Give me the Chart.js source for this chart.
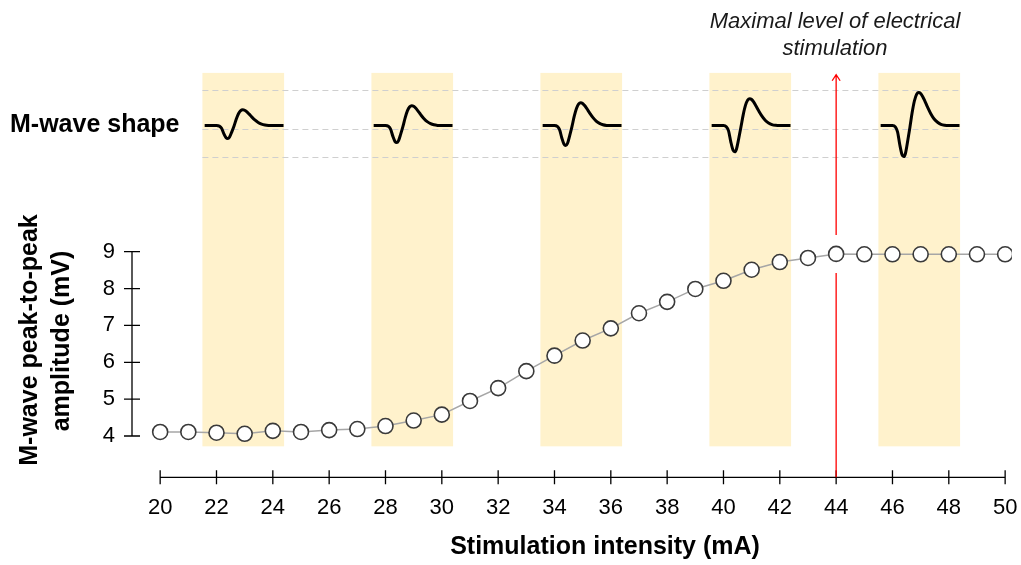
<!DOCTYPE html>
<html>
<head>
<meta charset="utf-8">
<script src="https://cdn.jsdelivr.net/npm/chart.js@4"></script>
<style>
  html, body { margin: 0; padding: 0; background: #fff; }
  #wrap { width: 1021px; height: 565px; }
</style>
</head>
<body>
<div id="wrap"><canvas id="mwaveChart"></canvas></div>
<script>
// stimulation intensity (mA) and M-wave peak-to-peak amplitude (mV)
const intensities = [20, 21, 22, 23, 24, 25, 26, 27, 28, 29, 30, 31, 32, 33, 34, 35,
  36, 37, 38, 39, 40, 41, 42, 43, 44, 45, 46, 47, 48, 49, 50];
const amplitudes = [4.11, 4.11, 4.09, 4.06, 4.14, 4.11, 4.16, 4.19, 4.27, 4.42, 4.58,
  4.95, 5.30, 5.76, 6.18, 6.59, 6.92, 7.33, 7.64, 7.99, 8.21, 8.51, 8.72, 8.83, 8.94,
  8.93, 8.93, 8.93, 8.93, 8.93, 8.93];

const xTickLabels = [20, 22, 24, 26, 28, 30, 32, 34, 36, 38, 40, 42, 44, 46, 48, 50];
const yTickLabels = [4, 5, 6, 7, 8, 9];

// shaded intensity windows where the M-wave shape is shown
const bandStarts = [21.5, 27.5, 33.5, 39.5, 45.5];
const bandEnds = [24.4, 30.4, 36.4, 42.4, 48.4];
const bandTop = 13.85;
const bandBottom = 3.72;

// M-wave sketch: shape, scaled per window
const waveOffsets = [0.08, 0.5, 0.6, 0.68, 0.76, 0.84, 0.9, 0.96, 1.04, 1.12, 1.2, 1.28,
  1.36, 1.43, 1.5, 1.57, 1.65, 1.75, 1.86, 1.98, 2.1, 2.22, 2.35, 2.5, 2.88];
const waveShape = [0, 0, -0.04, -0.2, -0.62, -0.94, -1, -0.9, -0.5, -0.05, 0.4, 0.75,
  0.95, 1, 0.97, 0.88, 0.74, 0.55, 0.36, 0.2, 0.1, 0.04, 0.01, 0, 0];
const wavePeaks = [0.43, 0.54, 0.62, 0.73, 0.90];
const waveTroughs = [0.35, 0.46, 0.54, 0.71, 0.84];
const waveBaseline = 12.42;
const guideLevels = [13.39, 12.33, 11.58];

const maxIntensity = 44;

const FONT = "'Liberation Sans', Arial, sans-serif";

const waveSets = bandStarts.map((start, i) => ({
  data: waveOffsets.map((o, k) => ({
    x: start + o,
    y: waveBaseline + waveShape[k] * (waveShape[k] < 0 ? waveTroughs[i] : wavePeaks[i])
  })),
  borderColor: '#000',
  borderWidth: 3,
  pointRadius: 0,
  cubicInterpolationMode: 'monotone',
  fill: false
}));

const decorations = {
  id: 'decorations',
  beforeDatasetsDraw(chart) {
    const { ctx, scales: { x, y } } = chart;
    ctx.save();
    ctx.fillStyle = '#fff2cc';
    const t = y.getPixelForValue(bandTop);
    const b = y.getPixelForValue(bandBottom);
    bandStarts.forEach((s, i) => {
      const l = x.getPixelForValue(s);
      const r = x.getPixelForValue(bandEnds[i]);
      ctx.fillRect(l, t, r - l, b - t);
    });

    ctx.strokeStyle = '#cfcfcf';
    ctx.lineWidth = 1;
    ctx.setLineDash([6, 4]);
    const gl = x.getPixelForValue(bandStarts[0]);
    const gr = x.getPixelForValue(bandEnds[bandEnds.length - 1]);
    guideLevels.forEach(v => {
      const py = Math.round(y.getPixelForValue(v)) + 0.5;
      ctx.beginPath();
      ctx.moveTo(gl, py);
      ctx.lineTo(gr, py);
      ctx.stroke();
    });
    ctx.restore();
  },
  afterDatasetsDraw(chart) {
    const { ctx, chartArea, scales: { x, y } } = chart;
    ctx.save();

    // axes, drawn only over the data range
    ctx.strokeStyle = '#000';
    ctx.lineWidth = 1.3;
    const ax = chartArea.left;
    ctx.beginPath();
    ctx.moveTo(ax, y.getPixelForValue(yTickLabels[0]));
    ctx.lineTo(ax, y.getPixelForValue(yTickLabels[yTickLabels.length - 1]));
    yTickLabels.forEach(v => {
      const py = y.getPixelForValue(v);
      ctx.moveTo(ax - 8, py);
      ctx.lineTo(ax + 8, py);
    });
    const ay = chartArea.bottom;
    ctx.moveTo(x.getPixelForValue(xTickLabels[0]), ay);
    ctx.lineTo(x.getPixelForValue(xTickLabels[xTickLabels.length - 1]), ay);
    xTickLabels.forEach(v => {
      const px = x.getPixelForValue(v);
      ctx.moveTo(px, ay - 7);
      ctx.lineTo(px, ay + 7);
    });
    ctx.stroke();

    // red arrow at the maximal stimulation level
    const rx = x.getPixelForValue(maxIntensity);
    const tip = y.getPixelForValue(13.8);
    ctx.strokeStyle = '#ff0000';
    ctx.lineWidth = 1.3;
    ctx.beginPath();
    ctx.moveTo(rx, ay);
    ctx.lineTo(rx, y.getPixelForValue(8.42));
    ctx.moveTo(rx, y.getPixelForValue(9.45));
    ctx.lineTo(rx, tip);
    ctx.moveTo(rx - 4, tip + 6);
    ctx.lineTo(rx, tip);
    ctx.lineTo(rx + 4, tip + 6);
    ctx.stroke();

    // texts
    ctx.fillStyle = '#000';
    ctx.font = 'bold 25px ' + FONT;
    ctx.textAlign = 'left';
    ctx.textBaseline = 'alphabetic';
    ctx.fillText('M-wave shape', 10, 132);

    ctx.textAlign = 'center';
    ctx.textBaseline = 'middle';
    ctx.fillText('Stimulation intensity (mA)', 605, 547);

    ctx.save();
    ctx.translate(30, 340);
    ctx.rotate(-Math.PI / 2);
    ctx.fillText('M-wave peak-to-peak', 0, 0);
    ctx.restore();
    ctx.save();
    ctx.translate(62, 341);
    ctx.rotate(-Math.PI / 2);
    ctx.fillText('amplitude (mV)', 0, 0);
    ctx.restore();

    ctx.fillStyle = '#1a1a1a';
    ctx.font = 'italic 22px ' + FONT;
    ctx.fillText('Maximal level of electrical', 835, 22);
    ctx.fillText('stimulation', 835, 49);
    ctx.restore();
  }
};

new Chart(document.getElementById('mwaveChart'), {
  type: 'line',
  data: {
    datasets: [
      {
        data: intensities.map((v, i) => ({ x: v, y: amplitudes[i] })),
        borderColor: '#a6a6a6',
        borderWidth: 1.5,
        pointRadius: 7.5,
        pointBackgroundColor: '#fff',
        pointBorderColor: '#3a3a3a',
        pointBorderWidth: 1.6,
        tension: 0
      },
      ...waveSets
    ]
  },
  options: {
    responsive: true,
    maintainAspectRatio: false,
    animation: false,
    layout: { padding: { top: 60, right: 5, left: 0, bottom: 0 } },
    plugins: { legend: { display: false }, tooltip: { enabled: false } },
    scales: {
      x: {
        type: 'linear',
        min: 19,
        max: 50.24,
        grid: { display: false, drawTicks: false },
        border: { display: false },
        afterBuildTicks: s => { s.ticks = xTickLabels.map(v => ({ value: v })); },
        afterFit: s => { s.height = 87.7; s.paddingLeft = 0; s.paddingRight = 0; },
        ticks: {
          autoSkip: false,
          maxRotation: 0,
          padding: 17,
          color: '#000',
          font: { family: FONT, size: 22 }
        }
      },
      y: {
        min: 2.88,
        max: 14.2,
        grid: { display: false, drawTicks: false },
        border: { display: false },
        afterBuildTicks: s => { s.ticks = yTickLabels.map(v => ({ value: v })); },
        afterFit: s => { s.width = 132; s.paddingTop = 0; s.paddingBottom = 0; },
        ticks: {
          padding: 17,
          color: '#000',
          font: { family: FONT, size: 22 }
        }
      }
    }
  },
  plugins: [decorations]
});
</script>
</body>
</html>
